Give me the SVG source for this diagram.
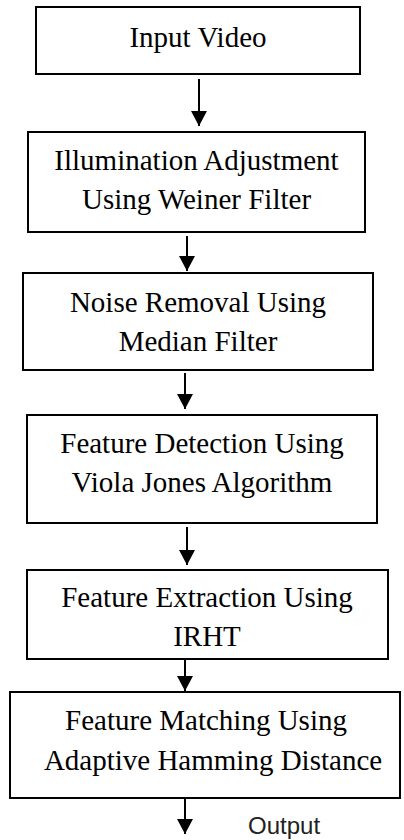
<svg xmlns="http://www.w3.org/2000/svg" width="404" height="840" viewBox="0 0 404 840">
<style>
.box{fill:#fff;stroke:#000;stroke-width:2}
.t{font-family:"Liberation Serif","Times New Roman",serif;font-size:29px;fill:#000;text-anchor:middle}
.c{stroke:#000;stroke-width:2;fill:none;marker-end:url(#ah)}
.o{font-family:"Liberation Sans",Arial,sans-serif;font-size:24px;fill:#222}
</style>
<defs>
<marker id="ah" markerUnits="userSpaceOnUse" markerWidth="16" markerHeight="16" refX="15" refY="8" orient="auto">
<path d="M0,0 L15,8 L0,16 z" fill="#000"/>
</marker>
</defs>
<rect width="404" height="840" fill="#fff"/>
<g id="n1"><rect class="box" x="36" y="7" width="324" height="67"/><text class="t" x="198" y="47">Input Video</text></g>
<g id="n2"><rect class="box" x="28" y="132" width="337" height="100"/><text class="t" x="196.5" y="170">Illumination Adjustment</text><text class="t" x="196.5" y="209">Using Weiner Filter</text></g>
<g id="n3"><rect class="box" x="23" y="273" width="350" height="97"/><text class="t" x="198" y="312">Noise Removal Using</text><text class="t" x="198" y="351">Median Filter</text></g>
<g id="n4"><rect class="box" x="27" y="415" width="350" height="108"/><text class="t" x="202" y="453">Feature Detection Using</text><text class="t" x="202" y="492">Viola Jones Algorithm</text></g>
<g id="n5"><rect class="box" x="27" y="570" width="361" height="89"/><text class="t" x="207" y="607">Feature Extraction Using</text><text class="t" x="207" y="646">IRHT</text></g>
<g id="n6"><rect class="box" x="10" y="692" width="390" height="106"/><text class="t" x="206" y="730">Feature Matching Using</text><text class="t" x="213" y="770">Adaptive Hamming Distance</text></g>
<g id="connectors">
<line class="c" x1="199" y1="79" x2="199" y2="126"/>
<line class="c" x1="187" y1="236" x2="187" y2="271"/>
<line class="c" x1="185" y1="373" x2="185" y2="409"/>
<line class="c" x1="187" y1="527" x2="187" y2="565"/>
<line class="c" x1="185" y1="660" x2="185" y2="691"/>
<line class="c" x1="185" y1="799" x2="185" y2="834"/>
</g>
<text class="o" x="248" y="834">Output</text>
</svg>
